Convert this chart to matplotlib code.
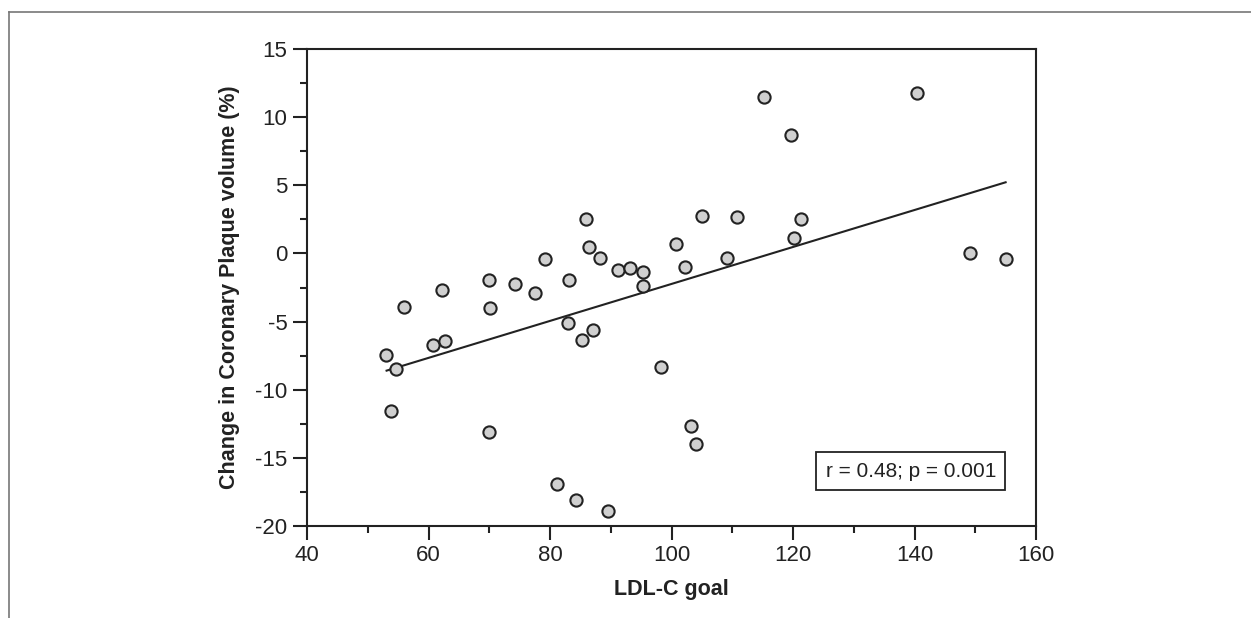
import numpy as np
import matplotlib
matplotlib.use("Agg")
import matplotlib.pyplot as plt
from matplotlib.lines import Line2D
from matplotlib.ticker import MultipleLocator

plt.rcParams['font.family'] = ['Liberation Sans', 'DejaVu Sans']
plt.rcParams['axes.unicode_minus'] = False

# valori
ldl_goal = [53.0, 54.6, 53.9, 56.0, 60.8, 62.7, 62.2, 70.0, 70.2, 70.0,
            74.2, 77.6, 79.1, 83.1, 82.9, 85.2, 87.1, 86.0, 86.4, 88.3,
            91.2, 93.1, 95.3, 95.3, 98.3, 100.7, 102.2, 103.2, 104.1, 81.1,
            84.3, 89.6, 105.1, 110.7, 109.2, 115.2, 119.6, 120.2, 121.3, 140.4,
            149.2, 155.1]
delta_plaque = [-7.45, -8.5, -11.56, -3.9, -6.72, -6.42, -2.68, -1.95, -4.0, -13.12,
                -2.26, -2.93, -0.43, -1.95, -5.13, -6.35, -5.62, 2.5, 0.5, -0.36,
                -1.21, -1.09, -1.38, -2.39, -8.33, 0.67, -0.97, -12.64, -14.0, -16.9,
                -18.1, -18.9, 2.77, 2.70, -0.36, 11.45, 8.69, 1.11, 2.5, 11.8,
                0.01, -0.43]
fit_x = [53.1, 155.0]
fit_y = [-8.6, 5.22]
stat_txt = "r = 0.48; p = 0.001"

fig = plt.figure(figsize=(12.51, 6.18), dpi=100)
fig.patch.set_facecolor('white')

# cornice esterna grigia
fig.add_artist(Line2D([9 / 1251, 1.0], [1 - 12 / 618, 1 - 12 / 618],
                      color='#777777', lw=1.2, transform=fig.transFigure))
fig.add_artist(Line2D([9 / 1251, 9 / 1251], [0.0, 1 - 12 / 618],
                      color='#777777', lw=1.2, transform=fig.transFigure))

ax = fig.add_axes([307 / 1251, 1 - 526 / 618, (1036 - 307) / 1251, (526 - 49) / 618])

ax.plot(fit_x, fit_y, color='#222222', lw=1.5, zorder=2)
ax.plot(ldl_goal, delta_plaque, ls='none', marker='o', ms=8.8,
        mfc='#d0d0d0', mec='#222222', mew=1.5, zorder=3)

ax.set_xlim(40, 160)
ax.set_ylim(-20, 15)
ax.xaxis.set_major_locator(MultipleLocator(20))
ax.xaxis.set_minor_locator(MultipleLocator(10))
ax.yaxis.set_major_locator(MultipleLocator(5))
ax.yaxis.set_minor_locator(MultipleLocator(2.5))

for s in ax.spines.values():
    s.set_linewidth(1.5)
    s.set_color('#222222')
ax.tick_params(which='major', length=10, width=1.5, color='#222222',
               labelsize=16, labelcolor='#222222', pad=4)
ax.tick_params(which='minor', length=5, width=1.5, color='#222222')

ax.set_xlabel("LDL-C goal", fontsize=15.5, fontweight='bold', color='#222222', labelpad=9)
ax.set_ylabel("Change in Coronary Plaque volume (%)", fontsize=15.5,
              fontweight='bold', color='#222222', labelpad=11)

ax.text(0.945, 0.115, stat_txt, transform=ax.transAxes, ha='right', va='center',
        fontsize=15, color='#222222',
        bbox=dict(boxstyle='square,pad=0.45', fc='white', ec='#222222', lw=1.3))

fig.savefig("out.png", dpi=100)
